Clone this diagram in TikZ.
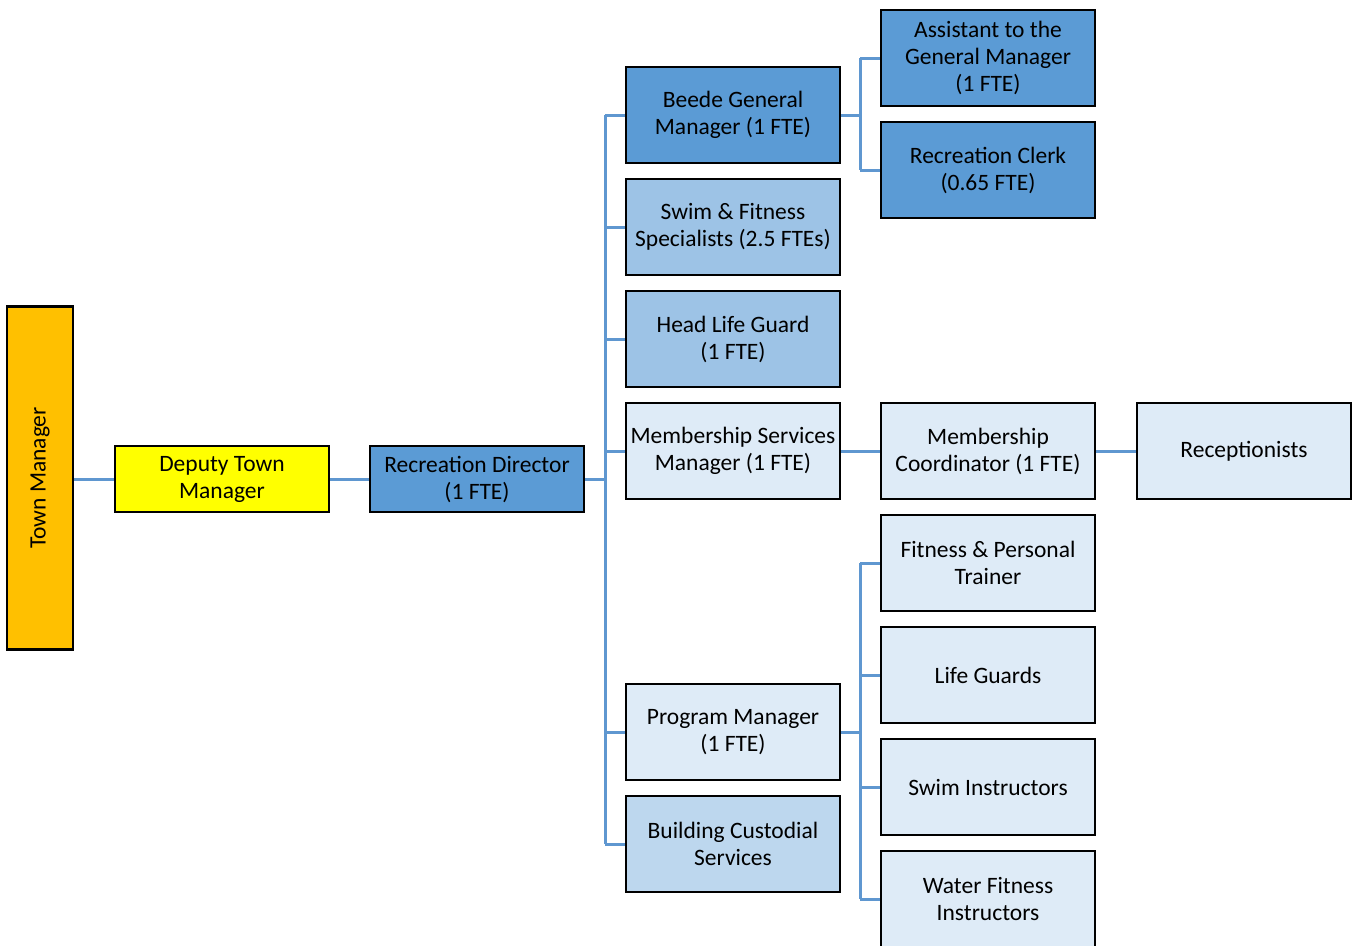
\documentclass[tikz,border=0pt]{standalone}
\usepackage{fontspec}
\setmainfont{Carlito}
\usepackage{xcolor}
\usetikzlibrary{positioning,calc,backgrounds}
\definecolor{darkblue}{HTML}{5B9BD5}
\definecolor{midblue}{HTML}{9DC3E6}
\definecolor{paleblue}{HTML}{BDD7EE}
\definecolor{lightblue}{HTML}{DEEBF7}
\definecolor{tmorange}{HTML}{FFC000}
\definecolor{dtmyellow}{HTML}{FFFF00}
\definecolor{linkblue}{HTML}{5F97D0}

\begin{document}
\begin{tikzpicture}[x=1pt, y=-1pt,
  post/.style={draw=black, line width=2.8pt, rectangle, minimum width=214pt, minimum height=96pt,
               align=center, inner sep=1pt, font=\fontsize{23.5}{27}\selectfont},
  wide/.style={post, minimum height=66pt},
  conn/.style={draw=linkblue, line width=3pt},
]
\useasboundingbox (0,0) rectangle (1354,945);
% top of the tree
\node[post, fill=tmorange, rotate=90, minimum width=343pt, minimum height=66pt] (tm) at (40,478) {Town Manager};
\node[wide, fill=dtmyellow] (dtm) at (222,479) {Deputy Town\\Manager};
\node[wide, fill=darkblue] (rd) at (477,479) {Recreation Director\\(1 FTE)};
% second column
\node[post, fill=darkblue] (bgm) at (733,115) {Beede General\\Manager (1 FTE)};
\node[post, fill=midblue] (sfs) at (733,227) {Swim \& Fitness\\Specialists (2.5 FTEs)};
\node[post, fill=midblue] (hlg) at (733,339) {Head Life Guard\\(1 FTE)};
\node[post, fill=lightblue] (msm) at (733,451) {Membership Services\\Manager (1 FTE)};
\node[post, fill=lightblue] (pm) at (733,732) {Program Manager\\(1 FTE)};
\node[post, fill=paleblue] (bcs) at (733,844) {Building Custodial\\Services};
% third column
\node[post, fill=darkblue] (agm) at (988,58) {Assistant to the\\General Manager\\(1 FTE)};
\node[post, fill=darkblue] (rc) at (988,170) {Recreation Clerk\\(0.65 FTE)};
\node[post, fill=lightblue] (mc) at (988,451) {Membership\\Coordinator (1 FTE)};
\node[post, fill=lightblue] (fpt) at (988,563) {Fitness \& Personal\\Trainer};
\node[post, fill=lightblue] (lg) at (988,675) {Life Guards};
\node[post, fill=lightblue] (si) at (988,787) {Swim Instructors};
\node[post, fill=lightblue] (wfi) at (988,899) {Water Fitness\\Instructors};
% fourth column
\node[post, fill=lightblue] (rec) at (1244,451) {Receptionists};

% connectors
\begin{pgfonlayer}{background}
\coordinate (bus) at (605,479);
\coordinate (gmbus) at (860,115);
\coordinate (pmbus) at (860,732);
\draw[conn] (tm.south |- dtm.west) -- (dtm.west);
\draw[conn] (dtm.east) -- (rd.west);
\draw[conn] (rd.east) -- (bus);
\draw[conn] (bus |- bgm.west) -- (bus |- bcs.west);
\foreach \n in {bgm,sfs,hlg,msm,pm,bcs}
  \draw[conn] (bus |- \n.west) -- (\n.west);
\draw[conn] (bgm.east) -- (gmbus);
\draw[conn] (gmbus |- agm.west) -- (gmbus |- rc.west);
\foreach \n in {agm,rc}
  \draw[conn] (gmbus |- \n.west) -- (\n.west);
\draw[conn] (pm.east) -- (pmbus);
\draw[conn] (pmbus |- fpt.west) -- (pmbus |- wfi.west);
\foreach \n in {fpt,lg,si,wfi}
  \draw[conn] (pmbus |- \n.west) -- (\n.west);
\draw[conn] (msm.east) -- (mc.west);
\draw[conn] (mc.east) -- (rec.west);
\end{pgfonlayer}
\end{tikzpicture}
\end{document}
